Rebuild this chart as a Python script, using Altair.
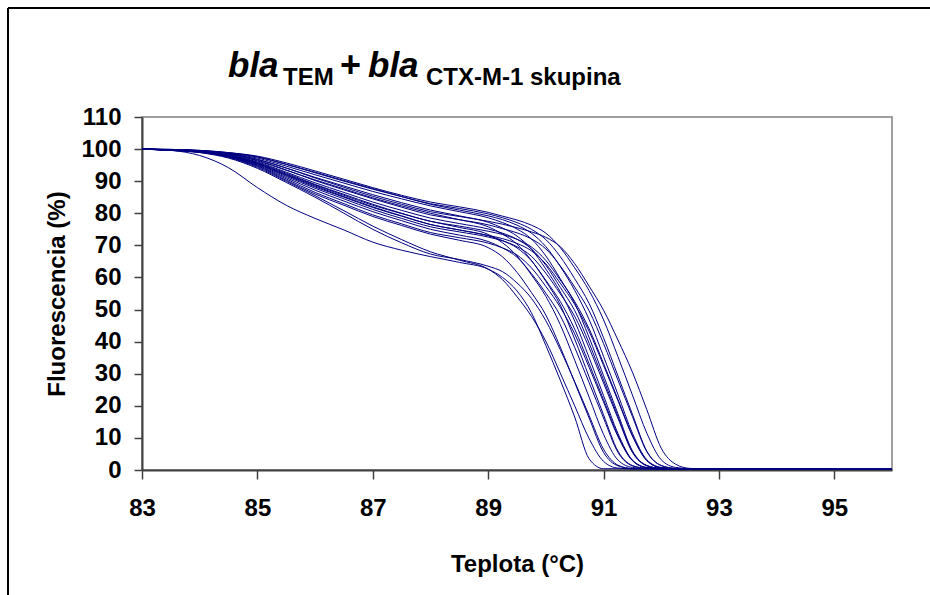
import altair as alt
import pandas as pd

# Temperature grid (°C)
temps = [83, 83.5, 84, 84.5, 85, 85.5, 86, 86.5, 87, 87.5, 88, 88.5, 89, 89.25, 89.5,
         89.75, 90, 90.25, 90.5, 90.75, 91, 91.25, 91.5, 91.75, 92, 92.25, 92.5, 93, 94, 95, 96]

# Fluorescence (%) per melting curve
c01 = [100, 99.9, 99.6, 98.9, 97.8, 95.7, 93.2, 90.6, 88.0, 85.6, 83.5, 82.0, 80.3, 79.1, 77.9, 76.3, 73.8, 69.3, 63.0, 55.9, 46.8, 35.3, 23.4, 11.5, 3.2, 0.8, 0.4, 0.3, 0.3, 0.2, 0.2]
c02 = [100, 99.8, 99.4, 98.5, 96.8, 94.1, 91.0, 88.1, 85.3, 82.8, 80.5, 79.0, 77.5, 76.6, 75.5, 74.2, 72.5, 69.6, 64.3, 57.3, 49.8, 40.5, 30.5, 18.8, 6.8, 1.8, 0.5, 0.3, 0.3, 0.2, 0.2]
c03 = [100, 99.9, 99.5, 98.8, 97.5, 95.2, 92.6, 90.0, 87.5, 85.2, 83.0, 81.5, 79.8, 78.6, 77.1, 75.0, 71.8, 66.5, 59.6, 51.9, 41.2, 29.3, 17.4, 5.9, 1.4, 0.5, 0.4, 0.3, 0.3, 0.2, 0.2]
c04 = [100, 99.9, 99.6, 98.9, 97.6, 95.3, 92.8, 90.2, 87.7, 85.2, 82.8, 81.0, 79.2, 78.0, 76.3, 73.8, 69.6, 63.4, 56.0, 46.9, 35.4, 23.5, 11.5, 3.2, 0.8, 0.4, 0.4, 0.3, 0.3, 0.2, 0.2]
c05 = [100, 99.8, 99.5, 98.7, 97.2, 94.7, 92.0, 89.4, 86.8, 84.5, 82.3, 80.5, 78.6, 77.1, 75.1, 72.0, 66.7, 59.6, 52.0, 41.3, 29.4, 17.5, 6.0, 1.4, 0.5, 0.4, 0.4, 0.3, 0.3, 0.2, 0.2]
c06 = [100, 99.8, 99.4, 98.4, 96.5, 93.5, 90.2, 87.3, 84.5, 81.9, 79.5, 78.0, 76.4, 75.2, 73.9, 72.0, 68.9, 63.6, 57.0, 49.6, 39.4, 28.0, 16.7, 5.7, 1.4, 0.5, 0.4, 0.3, 0.3, 0.2, 0.2]
c07 = [100, 99.8, 99.5, 98.6, 96.8, 94.1, 91.2, 88.5, 85.8, 83.3, 81.0, 79.2, 77.2, 75.4, 72.9, 68.8, 62.6, 55.5, 46.4, 35.0, 23.2, 11.4, 3.1, 0.8, 0.4, 0.4, 0.3, 0.3, 0.3, 0.2, 0.2]
c08 = [100, 99.8, 99.3, 98.2, 96.0, 92.8, 89.5, 86.5, 83.5, 80.9, 78.5, 76.8, 75.1, 73.8, 71.9, 68.9, 63.8, 56.9, 49.7, 39.5, 28.1, 16.7, 5.7, 1.4, 0.5, 0.4, 0.3, 0.3, 0.3, 0.2, 0.2]
c09 = [100, 99.7, 99.3, 98.1, 95.8, 92.5, 89.0, 85.9, 82.8, 80.0, 77.5, 76.0, 74.4, 73.4, 71.9, 69.5, 65.3, 59.2, 52.5, 44.0, 33.2, 22.0, 10.8, 3.0, 0.7, 0.4, 0.3, 0.3, 0.3, 0.2, 0.2]
c10 = [100, 99.8, 99.4, 98.4, 96.3, 93.4, 90.4, 87.6, 84.8, 82.3, 80.0, 78.0, 75.8, 73.5, 70.4, 65.3, 58.8, 51.4, 40.8, 29.0, 17.2, 5.9, 1.4, 0.5, 0.4, 0.4, 0.3, 0.3, 0.3, 0.2, 0.2]
c11 = [100, 99.7, 99.2, 97.9, 95.5, 92.0, 88.5, 85.2, 82.0, 79.2, 76.5, 74.8, 73.0, 71.5, 69.2, 65.2, 59.1, 52.5, 43.9, 33.1, 21.9, 10.8, 3.0, 0.7, 0.4, 0.4, 0.3, 0.3, 0.3, 0.2, 0.2]
c12 = [100, 99.7, 99.2, 97.8, 95.2, 91.5, 87.8, 84.5, 81.2, 78.4, 75.8, 74.2, 72.6, 71.4, 69.6, 66.6, 61.3, 54.9, 47.9, 38.1, 27.1, 16.1, 5.5, 1.3, 0.5, 0.4, 0.3, 0.3, 0.3, 0.2, 0.2]
c13 = [100, 99.7, 99.1, 97.7, 95.0, 91.1, 87.2, 83.8, 80.5, 77.7, 75.0, 73.2, 71.2, 69.2, 66.3, 61.2, 55.1, 48.1, 38.2, 27.2, 16.2, 5.5, 1.3, 0.5, 0.4, 0.4, 0.3, 0.3, 0.3, 0.2, 0.2]
c14 = [100, 99.7, 99.2, 98.0, 95.6, 92.2, 88.8, 85.6, 82.5, 79.9, 77.5, 75.6, 73.4, 70.8, 66.7, 60.8, 54.1, 45.3, 34.2, 22.7, 11.1, 3.1, 0.8, 0.4, 0.4, 0.3, 0.3, 0.3, 0.3, 0.2, 0.2]
c15 = [100, 99.7, 99.1, 97.6, 94.8, 90.7, 86.5, 83.0, 79.5, 76.7, 74.0, 72.4, 70.7, 69.2, 67.0, 63.0, 57.2, 50.7, 42.4, 32.0, 21.2, 10.4, 2.9, 0.7, 0.4, 0.4, 0.3, 0.3, 0.3, 0.2, 0.2]
c16 = [100, 99.6, 99.0, 97.5, 94.6, 90.3, 86.0, 82.5, 79.0, 76.2, 73.5, 71.6, 69.3, 66.4, 61.6, 55.3, 48.3, 38.3, 27.3, 16.2, 5.5, 1.3, 0.5, 0.4, 0.4, 0.3, 0.3, 0.3, 0.3, 0.2, 0.2]
c17 = [100, 99.7, 99.2, 97.9, 95.4, 91.8, 88.2, 85.0, 81.8, 79.1, 76.5, 74.8, 73.1, 72.1, 70.6, 68.3, 64.2, 58.2, 51.6, 43.2, 32.6, 21.6, 10.6, 2.9, 0.7, 0.4, 0.3, 0.3, 0.3, 0.2, 0.2]
c18 = [100, 99.6, 99.0, 97.4, 94.3, 90.0, 85.5, 80.8, 76.0, 71.8, 68.0, 65.4, 62.6, 59.3, 54.0, 47.9, 40.1, 30.2, 20.0, 9.8, 2.7, 0.6, 0.4, 0.4, 0.3, 0.3, 0.3, 0.3, 0.3, 0.2, 0.2]
c19 = [100, 99.6, 98.9, 97.2, 94.0, 89.6, 85.0, 80.0, 75.0, 70.8, 67.3, 65.6, 63.5, 61.8, 58.3, 53.5, 46.5, 37.5, 27.5, 17.0, 6.5, 1.5, 0.4, 0.4, 0.3, 0.3, 0.3, 0.3, 0.3, 0.2, 0.2]
c20 = [100, 99.6, 98.0, 94.2, 88.0, 82.5, 78.4, 74.8, 71.0, 68.5, 66.5, 64.7, 62.6, 60.0, 55.8, 49.0, 38.8, 28.0, 16.5, 3.5, 0.4, 0.4, 0.3, 0.3, 0.3, 0.3, 0.3, 0.3, 0.3, 0.2, 0.2]

curves = [c01, c02, c03, c04, c05, c06, c07, c08, c09, c10,
          c11, c12, c13, c14, c15, c16, c17, c18, c19, c20]

x_ticks = [83, 85, 87, 89, 91, 93, 95]
y_ticks = [0, 10, 20, 30, 40, 50, 60, 70, 80, 90, 100, 110]

rows = []
for i, c in enumerate(curves):
    for t, f in zip(temps, c):
        rows.append({"vzorka": f"s{i + 1}", "T": t, "F": f})
df = pd.DataFrame(rows)

FONT = "Liberation Sans"
NAVY = "#000080"

lines = alt.Chart(df).mark_line(color=NAVY, strokeWidth=1, interpolate="monotone").encode(
    x=alt.X("T:Q", scale=alt.Scale(domain=[83, 96], nice=False, zero=False),
            axis=alt.Axis(values=x_ticks, title="Teplota (°C)", grid=False, labelFlush=False,
                          tickSize=9, tickColor="#404040", tickWidth=1.5,
                          domainColor="#404040", domainWidth=2,
                          labelFont=FONT, labelFontSize=24, labelFontWeight="bold", labelColor="black",
                          labelPadding=17, titleFont=FONT, titleFontSize=24, titleFontWeight="bold",
                          titleColor="black", titlePadding=32)),
    y=alt.Y("F:Q", scale=alt.Scale(domain=[0, 110], nice=False),
            axis=alt.Axis(values=y_ticks, title="Fluorescencia (%)", grid=False, labelFlush=False,
                          tickSize=8, tickColor="#404040", tickWidth=1.5,
                          domainColor="#404040", domainWidth=2,
                          labelFont=FONT, labelFontSize=24, labelFontWeight="bold", labelColor="black",
                          labelPadding=13, titleFont=FONT, titleFontSize=24, titleFontWeight="bold",
                          titleColor="black", titlePadding=11)),
    detail="vzorka:N",
)

def txt(s, x, y, size, italic):
    kw = dict(font=FONT, fontSize=size, fontWeight="bold", align="left",
              baseline="alphabetic", color="black")
    if italic:
        kw["fontStyle"] = "italic"
    return alt.Chart(pd.DataFrame({"t": [s]})).mark_text(**kw).encode(
        text="t:N", x=alt.value(x), y=alt.value(y))

title_parts = [
    txt("bla", 86, -40, 35, True),
    txt("TEM", 141, -32, 24, False),
    txt("+", 198, -40, 36, False),
    txt("bla", 226, -40, 35, True),
    txt("CTX-M-1 skupina", 284, -32, 24, False),
]

one = pd.DataFrame({"k": [0]})
frame_top = alt.Chart(one).mark_rule(color="black", strokeWidth=2).encode(
    x=alt.value(-134), x2=alt.value(800), y=alt.value(-109))
frame_left = alt.Chart(one).mark_rule(color="black", strokeWidth=2).encode(
    x=alt.value(-134), y=alt.value(-109), y2=alt.value(500))

chart = alt.layer(frame_top, frame_left, lines, *title_parts).properties(
    width=750, height=353,
    padding={"left": 142, "top": 117, "right": 38, "bottom": 125},
    autosize=alt.AutoSizeParams(type="none"),
    background="white",
).configure_view(stroke="#808080", strokeWidth=1.5)

chart.save("out.html", embed_options={"renderer": "svg", "actions": False})
